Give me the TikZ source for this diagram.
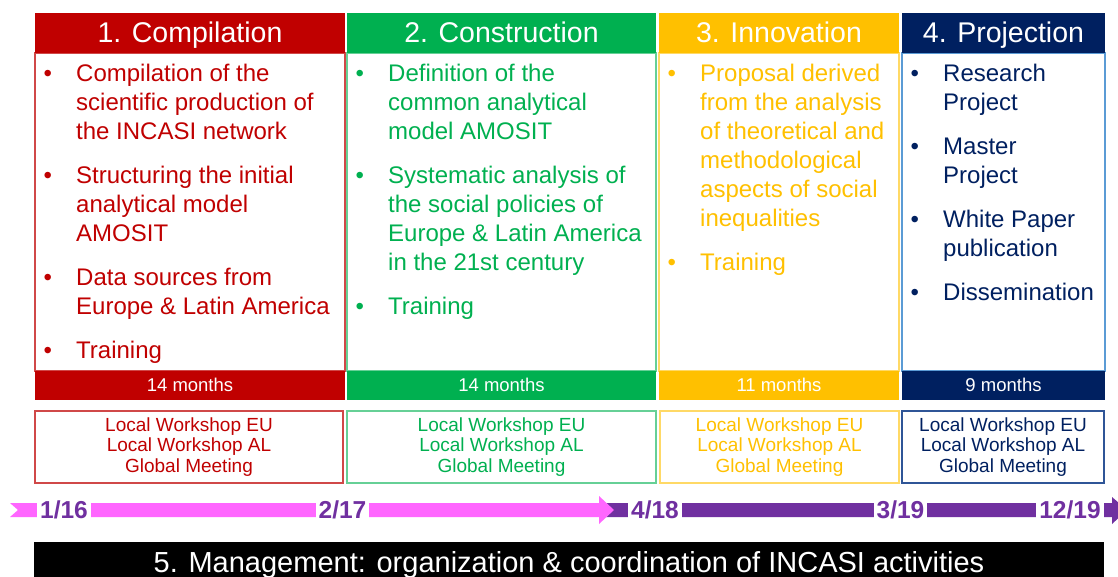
\documentclass[tikz,border=0pt]{standalone}
\usepackage{fontspec}
\setmainfont{Liberation Sans}
\usetikzlibrary{calc}

\definecolor{incred}{HTML}{C00000}
\definecolor{incgreen}{HTML}{00B050}
\definecolor{incorange}{HTML}{FFC000}
\definecolor{incnavy}{HTML}{002060}
\definecolor{incblue}{HTML}{5B9BD5}
\definecolor{incnavyline}{HTML}{2F5597}
\definecolor{incredline}{HTML}{D04848}
\definecolor{incpink}{HTML}{FF66FF}
\definecolor{incpurple}{HTML}{7030A0}

\tikzset{
  headbox/.style={fill=#1, text=white, inner sep=0pt, outer sep=0pt, minimum height=40pt,
    text height=20pt, text depth=0pt, font=\fontsize{28.5}{32}\selectfont},
  framebox/.style={draw=#1, line width=1.2pt, inner sep=0pt, outer sep=0pt, minimum height=318pt},
  listtxt/.style={text=#1, anchor=base west, inner sep=0pt, font=\fontsize{24}{29}\selectfont},
  monthbar/.style={fill=#1, text=white, inner sep=0pt, minimum height=29pt,
    text height=11pt, text depth=0pt, font=\fontsize{18.5}{22}\selectfont},
  meetbox/.style={draw=#1, line width=1.1pt, inner sep=0pt, minimum height=72pt, align=center,
    font=\fontsize{19}{20.5}\selectfont},
  datelbl/.style={fill=white, text=incpurple, inner xsep=3pt, inner ysep=0pt, anchor=base,
    text height=16pt, text depth=0pt, font=\bfseries\fontsize{24.5}{26}\selectfont},
}

\begin{document}
\begin{tikzpicture}[x=1pt,y=-1pt]
\clip (0,0) rectangle (1118,577);
\fill[white] (0,0) rectangle (1118,577);

% frames of the four phases
\node[framebox=incredline, minimum width=310pt] (f1) at (190,212) {};
\node[framebox=incgreen!60, minimum width=309pt] (f2) at (501.5,212) {};
\node[framebox=incorange!60, minimum width=240pt] (f3) at (779,212) {};
\node[framebox=incblue, minimum width=203pt] (f4) at (1003.5,212) {};

% headers
\node[headbox=incred, minimum width=310pt] (h1) at (190,33) {1. Compilation};
\node[headbox=incgreen, minimum width=309pt] (h2) at (501.5,33) {2. Construction};
\node[headbox=incorange, minimum width=240pt] (h3) at (779,33) {3. Innovation};
\node[headbox=incnavy, minimum width=203pt] (h4) at (1003.5,33) {4. Projection};

% duration bars
\node[monthbar=incred, minimum width=310pt] (m1) at (190,385.5) {14 months};
\node[monthbar=incgreen, minimum width=309pt] (m2) at (501.5,385.5) {14 months};
\node[monthbar=incorange, minimum width=240pt] (m3) at (779,385.5) {11 months};
\node[monthbar=incnavy, minimum width=203pt] (m4) at (1003.5,385.5) {9 months};

% contents
\node[listtxt=incred] (l1) at ($(f1.north west)+(8.5,29)$) {%
\begin{tabular}[t]{@{}p{32.5pt}@{}l@{}}
\textbullet & Compilation of the\\
 & scientific production of\\
 & the INCASI network\\[15pt]
\textbullet & Structuring the initial\\
 & analytical model\\
 & AMOSIT\\[15pt]
\textbullet & Data sources from\\
 & Europe \& Latin America\\[15pt]
\textbullet & Training
\end{tabular}};
\node[listtxt=incgreen] (l2) at ($(f2.north west)+(8.5,29)$) {%
\begin{tabular}[t]{@{}p{32.5pt}@{}l@{}}
\textbullet & Definition of the\\
 & common analytical\\
 & model AMOSIT\\[15pt]
\textbullet & Systematic analysis of\\
 & the social policies of\\
 & Europe \& Latin America\\
 & in the 21st century\\[15pt]
\textbullet & Training
\end{tabular}};
\node[listtxt=incorange] (l3) at ($(f3.north west)+(8.5,29)$) {%
\begin{tabular}[t]{@{}p{32.5pt}@{}l@{}}
\textbullet & Proposal derived\\
 & from the analysis\\
 & of theoretical and\\
 & methodological\\
 & aspects of social\\
 & inequalities\\[15pt]
\textbullet & Training
\end{tabular}};
\node[listtxt=incnavy] (l4) at ($(f4.north west)+(8.5,29)$) {%
\begin{tabular}[t]{@{}p{32.5pt}@{}l@{}}
\textbullet & Research\\
 & Project\\[15pt]
\textbullet & Master\\
 & Project\\[15pt]
\textbullet & White Paper\\
 & publication\\[15pt]
\textbullet & Dissemination
\end{tabular}};

% meetings
\node[meetbox=incredline, text=incred, minimum width=308pt] (w1) at (189,447)
  {Local Workshop EU\\Local Workshop AL\\Global Meeting};
\node[meetbox=incgreen!60, text=incgreen, minimum width=309pt] (w2) at (501.5,447)
  {Local Workshop EU\\Local Workshop AL\\Global Meeting};
\node[meetbox=incorange!60, text=incorange, minimum width=239pt] (w3) at (779.5,447)
  {Local Workshop EU\\Local Workshop AL\\Global Meeting};
\node[meetbox=incnavyline, text=incnavy, minimum width=202pt] (w4) at (1003,447)
  {Local Workshop EU\\Local Workshop AL\\Global Meeting};

% time line
\fill[incpurple] (600,503) -- (1112,503) -- (1112,497) -- (1127,510) -- (1112,524)
  -- (1112,517) -- (600,517) -- cycle;
\fill[incpink] (10,503) -- (599,503) -- (599,496) -- (614,510) -- (599,524)
  -- (599,517) -- (10,517) -- (18,510) -- cycle;
\node[datelbl] (d1) at (64,518) {1/16};
\node[datelbl] (d2) at (342.5,518) {2/17};
\node[datelbl] (d3) at (655,518) {4/18};
\node[datelbl] (d4) at (900.5,518) {3/19};
\node[datelbl] (d5) at (1070,518) {12/19};

% management
\node[fill=black, text=white, inner sep=0pt, minimum width=1070pt, minimum height=40pt,
  text height=20pt, text depth=0pt, font=\fontsize{29}{32}\selectfont] (mg) at (569,562)
  {5. Management: organization \& coordination of INCASI activities};
\end{tikzpicture}
\end{document}
